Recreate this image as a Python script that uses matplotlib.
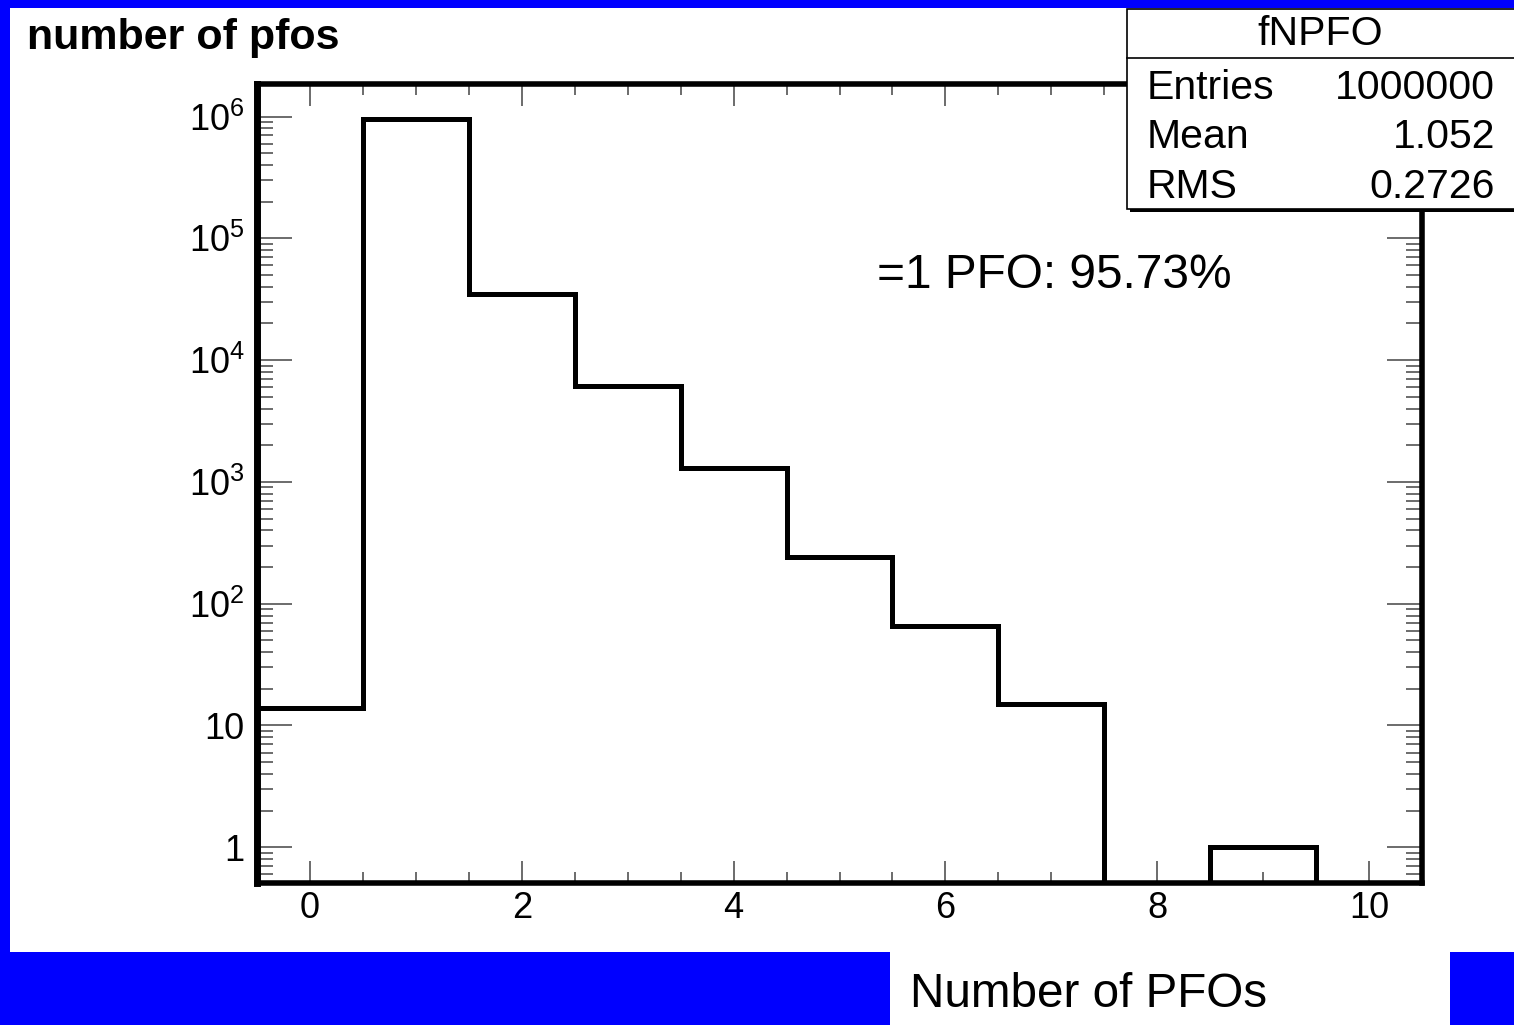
import numpy as np
import matplotlib
matplotlib.use('Agg')
import matplotlib.pyplot as plt
import matplotlib.patches as patches
from matplotlib.ticker import FixedLocator, MultipleLocator, NullFormatter

plt.rcParams['font.family'] = ['Liberation Sans', 'DejaVu Sans']
plt.rcParams['mathtext.fontset'] = 'custom'
plt.rcParams['mathtext.rm'] = 'Liberation Sans'
plt.rcParams['mathtext.it'] = 'Liberation Sans'

# histogram contents (fNPFO), bins of width 1 starting at -0.5
bin_edges = np.arange(-0.5, 11.0, 1.0)
counts = [14, 957300, 35000, 6100, 1300, 240, 66, 15, 0, 1, 0]
y_ticks = [1, 10, 1e2, 1e3, 1e4, 1e5, 1e6]
y_ticklabels = ['1', '10', '$10^{2}$', '$10^{3}$', '$10^{4}$', '$10^{5}$', '$10^{6}$']
x_ticks = [0, 2, 4, 6, 8, 10]
stats_rows = [('Entries', '1000000'), ('Mean', '1.052'), ('RMS', '0.2726')]

W, H = 1514, 1025
blue = '#0000ff'
fig = plt.figure(figsize=(W / 100, H / 100), dpi=100, facecolor=blue)


def px_rect(x0, y0, x1, y1, **kw):
    # rectangle given in image pixels (y from top)
    r = patches.Rectangle((x0 / W, 1 - y1 / H), (x1 - x0) / W, (y1 - y0) / H,
                          transform=fig.transFigure, **kw)
    fig.patches.append(r)
    return r


# white panels on the blue slide
px_rect(10, 8, W + 5, 952, facecolor='white', edgecolor='none', zorder=-5)
px_rect(890, 952, 1450, H + 5, facecolor='white', edgecolor='none', zorder=-5)

ax_l, ax_r, ax_t, ax_b = 257, 1422, 84, 883
ax = fig.add_axes([ax_l / W, 1 - ax_b / H, (ax_r - ax_l) / W, (ax_b - ax_t) / H])

ymin, ymax = 0.509, 1.85e6
draw_counts = np.where(np.array(counts) > 0, counts, ymin)
ax.stairs(draw_counts, bin_edges, baseline=ymin, color='black', linewidth=3.6, zorder=3)

ax.set_yscale('log')
ax.set_xlim(-0.5, 10.5)
ax.set_ylim(ymin, ymax)

ax.yaxis.set_major_locator(FixedLocator(y_ticks))
ax.set_yticklabels(y_ticklabels, fontsize=26)
minor_y = [m * 10 ** d for d in range(-1, 7) for m in range(2, 10)]
ax.yaxis.set_minor_locator(FixedLocator(minor_y))
ax.yaxis.set_minor_formatter(NullFormatter())
ax.xaxis.set_major_locator(FixedLocator(x_ticks))
ax.set_xticklabels([str(t) for t in x_ticks], fontsize=26)
ax.xaxis.set_minor_locator(MultipleLocator(0.5))

ax.tick_params(axis='both', which='both', direction='in', color='#444444',
               width=1.1, top=True, right=True)
ax.tick_params(axis='y', which='major', length=25, pad=9)
ax.tick_params(axis='y', which='minor', length=11.5)
ax.tick_params(axis='x', which='major', length=16, pad=6)
ax.tick_params(axis='x', which='minor', length=8)

for side, sp in ax.spines.items():
    sp.set_linewidth(4.0)
    sp.set_zorder(4)
ax.spines['left'].set_linewidth(5.0)

# titles as plain text on the slide
fig.text(27 / W, 1 - 49 / H, 'number of pfos', fontsize=31, fontweight='bold',
         ha='left', va='baseline')
fig.text(910 / W, 1 - 1007 / H, 'Number of PFOs', fontsize=34.3,
         ha='left', va='baseline')
fig.text(877 / W, 1 - 288 / H, '=1 PFO: 95.73%', fontsize=34.4,
         ha='left', va='baseline')

# stats box (ROOT style)
bx0, by0, bx1, by1 = 1127, 9, W + 20, 209
px_rect(bx0 + 3, by0 + 3, bx1 + 3, by1 + 3, facecolor='black', edgecolor='none', zorder=5)
px_rect(bx0, by0, bx1, by1, facecolor='white', edgecolor='black', linewidth=1.2, zorder=6)
fig.lines.append(plt.Line2D([bx0 / W, 1], [1 - 58 / H, 1 - 58 / H],
                            transform=fig.transFigure, color='black', lw=1.2, zorder=7))
fig.text(1320 / W, 1 - 34 / H, 'fNPFO', fontsize=29.5, ha='center', va='center', zorder=8)
for i, (name, val) in enumerate(stats_rows):
    yb = 1 - (99 + 49.5 * i) / H
    fig.text(1147 / W, yb, name, fontsize=29.5, ha='left', va='baseline', zorder=8)
    fig.text(1495 / W, yb, val, fontsize=29.5, ha='right', va='baseline', zorder=8)

fig.savefig('out.png', dpi=100, facecolor=blue)
